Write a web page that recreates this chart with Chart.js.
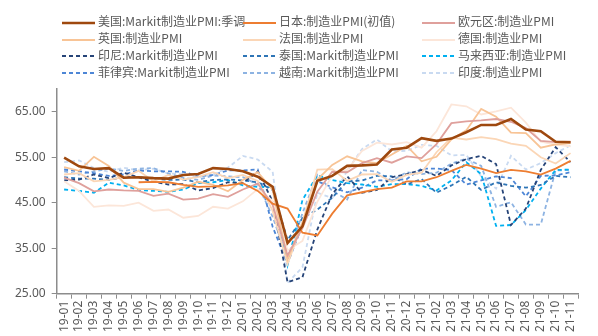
<!DOCTYPE html>
<html>
<head>
<meta charset="utf-8">
<script src="https://cdn.jsdelivr.net/npm/chart.js@4.4.0/dist/chart.umd.min.js"></script>
<style>
  html, body { margin: 0; padding: 0; background: #fff; }
  #wrap { position: relative; width: 598px; height: 336px; }
  #legend { position: absolute; left: 0; top: 0; width: 598px; height: 84px;
    font-family: "Noto Sans CJK SC", "Noto Sans", sans-serif; font-size: 12px; color: #595959; }
  .item { position: absolute; height: 16px; line-height: 16px; white-space: nowrap; }
  .item svg { vertical-align: middle; margin-right: 3px; }
</style>
</head>
<body>
<div id="wrap">
  <canvas id="c" width="598" height="336"></canvas>
  <div id="legend"></div>
</div>
<script>
var months = ['19-01','19-02','19-03','19-04','19-05','19-06','19-07','19-08','19-09','19-10','19-11','19-12',
  '20-01','20-02','20-03','20-04','20-05','20-06','20-07','20-08','20-09','20-10','20-11','20-12',
  '21-01','21-02','21-03','21-04','21-05','21-06','21-07','21-08','21-09','21-10','21-11'];

var us = [54.9,53.0,52.4,52.6,50.5,50.6,50.4,50.3,51.1,51.3,52.6,52.4, 51.9,50.7,48.5,36.1,39.8,49.8,50.9,53.1,53.2,53.4,56.7,57.1, 59.2,58.6,59.1,60.5,62.1,62.1,63.4,61.1,60.7,58.4,58.3];
var japan = [null,null,null,null,null,49.5,49.6,49.5,48.9,48.5,48.6,48.8, 49.3,47.6,44.8,43.7,38.4,37.8,42.6,46.6,47.3,48.0,48.3,49.7, 49.7,50.6,52.0,53.3,52.5,51.5,52.2,51.9,51.2,52.5,54.2];
var euro = [50.5,49.3,47.5,47.9,47.7,47.6,46.5,47.0,45.7,45.9,46.9,46.3, 47.9,49.2,44.5,33.4,39.4,47.4,51.8,51.7,53.7,54.8,53.8,55.2, 54.8,57.9,62.5,62.9,63.1,63.4,62.8,61.4,58.6,58.3,58.4];
var uk = [52.8,52.0,55.1,53.1,49.4,48.0,48.0,47.4,48.3,49.6,48.9,47.5, 50.0,51.7,47.8,32.6,40.7,50.1,53.3,55.2,54.1,53.7,55.6,57.5, 54.1,55.1,58.9,60.9,65.6,63.9,60.4,60.3,57.1,57.8,58.1];
var france = [51.2,51.5,49.7,50.0,50.6,52.0,49.7,51.1,50.1,50.7,51.7,50.4, 51.1,49.8,43.2,31.5,40.6,52.3,52.4,49.8,51.2,51.3,49.6,51.1, 51.6,56.1,59.3,58.9,59.4,59.0,58.0,57.5,55.0,53.6,55.9];
var germany = [49.7,47.6,44.1,44.4,44.3,45.0,43.2,43.5,41.7,42.1,44.1,43.7, 45.3,48.0,45.4,34.5,36.6,45.2,51.0,52.2,56.4,58.2,57.8,58.3, 57.1,60.7,66.6,66.2,64.4,65.1,65.9,62.6,58.4,57.8,57.4];
var indonesia = [49.9,50.1,51.2,50.4,51.6,50.6,49.6,49.0,49.1,47.7,48.2,49.5, 49.3,51.9,45.3,27.5,28.6,39.1,46.9,50.8,47.2,47.8,50.6,51.3, 52.2,50.9,53.2,54.6,55.3,53.5,40.1,43.7,52.2,57.2,53.9];
var thailand = [50.6,50.3,50.3,50.0,50.7,50.6,50.3,50.0,50.1,49.5,50.0,50.1, 49.9,49.5,47.8,36.8,41.6,43.5,46.1,49.7,49.9,50.9,50.8,49.0, 50.2,47.2,48.8,50.7,47.8,49.5,48.7,48.3,48.9,50.9,50.6];
var malaysia = [47.9,47.6,47.2,49.4,48.8,47.8,47.6,47.4,47.9,49.3,49.5,50.0, 48.8,48.5,48.4,31.3,45.6,51.0,50.0,49.3,49.0,48.5,49.1,49.1, 48.7,47.7,49.9,53.9,51.3,39.9,40.1,43.4,48.1,52.2,52.3];
var philippines = [52.3,51.9,51.5,50.9,51.2,52.1,51.9,51.9,51.8,50.8,51.1,52.1, 52.1,52.3,39.7,31.6,40.1,49.7,48.4,47.3,48.3,49.9,49.9,50.2, 52.5,52.5,52.2,49.0,49.9,50.8,50.4,46.4,50.9,51.0,51.7];
var vietnam = [51.9,51.2,51.9,52.5,52.0,52.5,52.6,51.4,50.5,50.0,51.0,50.8, 50.6,49.0,41.9,32.7,42.7,51.1,47.6,45.7,52.2,51.8,49.9,51.7, 51.3,51.6,53.6,54.7,53.1,44.1,45.1,40.2,40.2,52.1,52.2];
var india = [53.9,54.3,52.6,51.8,52.7,52.1,52.5,51.4,51.4,50.6,51.2,52.7, 55.3,54.5,51.8,27.4,30.8,47.2,46.0,52.0,56.8,58.9,56.3,56.4, 57.7,57.5,55.4,55.5,50.8,48.1,55.3,52.3,53.7,55.9,57.6];

var yTicks = [25, 35, 45, 55, 65];

function line(label, data, color, width, dashed) {
  return {
    label: label, data: data, borderColor: color, backgroundColor: color,
    borderWidth: width, borderDash: dashed ? [4, 3] : [], pointRadius: 0,
    tension: 0, fill: false, spanGaps: false
  };
}

var datasets = [
  line('美国:Markit制造业PMI:季调', us, '#9E480E', 2.6, false),
  line('日本:制造业PMI(初值)', japan, '#ED7D31', 1.8, false),
  line('欧元区:制造业PMI', euro, '#DFA09C', 1.8, false),
  line('英国:制造业PMI', uk, '#F8C496', 1.8, false),
  line('法国:制造业PMI', france, '#FBD6B6', 1.8, false),
  line('德国:制造业PMI', germany, '#FCE6D9', 1.8, false),
  line('印尼:Markit制造业PMI', indonesia, '#264478', 1.8, true),
  line('泰国:Markit制造业PMI', thailand, '#2E75B6', 1.8, true),
  line('马来西亚:制造业PMI', malaysia, '#00B0F0', 1.8, true),
  line('菲律宾:Markit制造业PMI', philippines, '#4D86D6', 1.8, true),
  line('越南:Markit制造业PMI', vietnam, '#8DB3E2', 1.8, true),
  line('印度:制造业PMI', india, '#C9DAF1', 1.8, true)
];

var axisColor = '#8C8C8C';
var tickFont = { family: '"Noto Sans", sans-serif', size: 12 };

var chart = new Chart(document.getElementById('c'), {
  type: 'line',
  data: { labels: months, datasets: datasets },
  options: {
    responsive: false,
    animation: false,
    layout: { padding: { top: 89, left: 9, right: 20, bottom: 2 } },
    plugins: { legend: { display: false }, tooltip: { enabled: false } },
    scales: {
      x: {
        offset: true,
        grid: { display: true, drawOnChartArea: false, drawTicks: true, tickLength: 5, color: axisColor, offset: true },
        border: { color: axisColor, width: 1.5 },
        ticks: { color: '#595959', font: tickFont, minRotation: 90, maxRotation: 90, autoSkip: false, padding: 2 }
      },
      y: {
        min: 25, max: 70,
        afterBuildTicks: function (s) { s.ticks = yTicks.map(function (v) { return { value: v }; }); },
        grid: { display: true, drawOnChartArea: false, drawTicks: true, tickLength: 5, color: axisColor },
        border: { color: axisColor, width: 1.5 },
        ticks: { color: '#595959', font: tickFont, padding: 6, callback: function (v) { return Number(v).toFixed(2); } }
      }
    }
  }
});

// legend in three columns
var colX = [62, 243, 422];
var rowY = [21, 38, 54.5, 71.5];
var legend = document.getElementById('legend');
datasets.forEach(function (ds, i) {
  var c = i % 3, r = Math.floor(i / 3);
  var div = document.createElement('div');
  div.className = 'item';
  div.style.left = colX[c] + 'px';
  div.style.top = (rowY[r] - 8) + 'px';
  var dash = ds.borderDash.length ? ' stroke-dasharray="4 3"' : '';
  div.innerHTML = '<svg width="33" height="4"><line x1="0" y1="2" x2="33" y2="2" stroke="' + ds.borderColor +
    '" stroke-width="' + ds.borderWidth + '"' + dash + '/></svg><span>' + ds.label + '</span>';
  legend.appendChild(div);
});
</script>
</body>
</html>
